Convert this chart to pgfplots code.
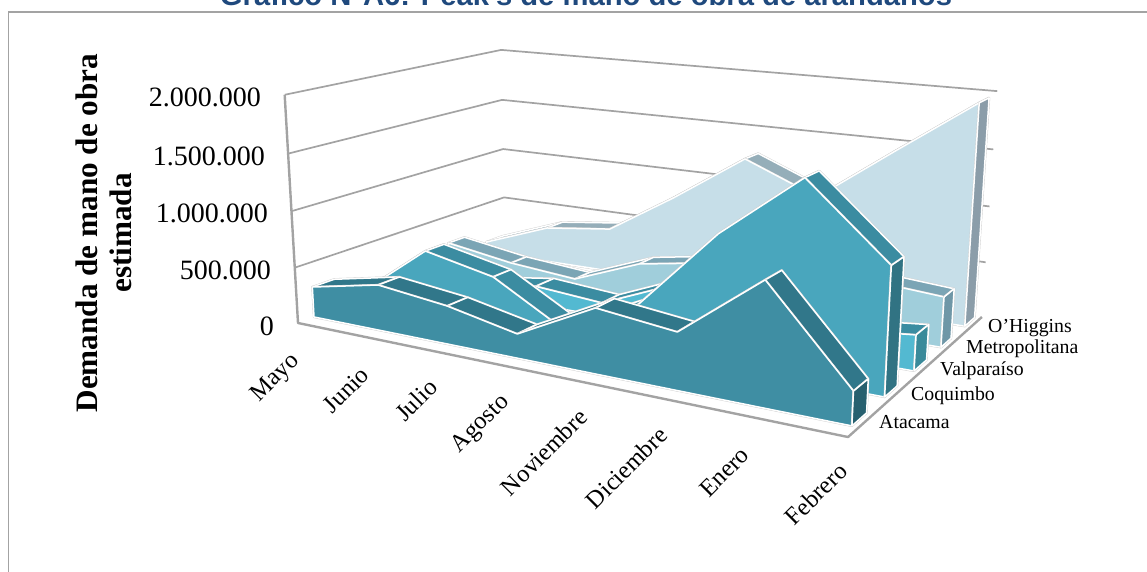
\documentclass[border=0pt]{standalone}
\usepackage{fontspec}
\setmainfont{Liberation Serif}
\newfontfamily\titlefont{Liberation Sans}
\usepackage{pgfplots}
\usepackage{pgfplotstable}
\pgfplotsset{compat=1.18}

% Estimated peak labour demand, thousands of workers; pos = place along the month axis
\pgfplotstableread{
pos value
0.000 275
0.150 405
0.295 333
0.433 207
0.578 544
0.718 469
0.855 984
0.990 265
}\atacama
\pgfplotstableread{
pos value
0.000 66
0.150 552
0.295 420
0.433 72
0.578 392
0.718 1086
0.855 1612
0.990 1030
}\coquimbo
\pgfplotstableread{
pos value
0.000 60
0.150 80
0.295 170
0.433 120
0.578 400
0.718 300
0.855 232
0.990 300
}\valparaiso
\pgfplotstableread{
pos value
0.000 233
0.150 132
0.295 76
0.433 318
0.578 429
0.718 420
0.855 487
0.990 435
}\metropolitana
\pgfplotstableread{
pos value
0.000 103
0.150 340
0.295 419
0.433 806
0.578 1254
0.718 983
0.855 1470
0.990 1945
}\ohiggins

\definecolor{gridgray}{HTML}{A3A3A3}
\definecolor{titleblue}{HTML}{1F497D}
\definecolor{ataF}{HTML}{3F8EA3}\definecolor{ataT}{HTML}{31778A}\definecolor{ataE}{HTML}{27606F}
\definecolor{coqF}{HTML}{49A6BD}\definecolor{coqT}{HTML}{3B8CA1}\definecolor{coqE}{HTML}{317383}
\definecolor{valF}{HTML}{53B9D1}\definecolor{valT}{HTML}{3B8CA1}\definecolor{valE}{HTML}{3A8A9A}
\definecolor{metF}{HTML}{A0CEDB}\definecolor{metT}{HTML}{7BA5B5}\definecolor{metE}{HTML}{6F97A7}
\definecolor{ohiF}{HTML}{C6DEE8}\definecolor{ohiT}{HTML}{95AEB9}\definecolor{ohiE}{HTML}{8B9DA9}

\tikzset{facet/.style={draw=white,line width=1.5bp,line join=round,
  preaction={draw=black!20,line width=2.2bp}}}

% Perspective of the chart box: month position, depth, value in thousands
\newcommand{\project}[3]{%
  \pgfmathsetmacro{\pv}{#3/2000}%
  \pgfmathsetmacro{\pw}{1-0.22094*#1+0.21511*#2-0.04*\pv}%
  \pgfmathsetmacro{\camx}{(298+362.64*#1+315.63*#2-24.7*\pv)/\pw}%
  \pgfmathsetmacro{\camy}{(323+17.45*#1-25.3*#2-232*\pv)/\pw+\pv*(10*#1-6*#2)}%
}
\newcommand{\addpt}[4]{\project{#2}{#3}{#4}\edef#1{#1(\camx,\camy) }}
\newcommand{\rowof}[2]{%
  \pgfplotstablegetelem{#2}{pos}\of{#1}\let\rpos\pgfplotsretval
  \pgfplotstablegetelem{#2}{value}\of{#1}\let\rval\pgfplotsretval
}
\newcommand{\facet}[2]{\edef\cmd{\noexpand\addplot[facet,fill=#1] coordinates {#2} -- cycle;}\cmd}

% One ribbon: table, front depth, back depth, colours of front, top and end faces
\newcommand{\ribbon}[6]{%
  \pgfplotsforeachungrouped \r in {0,...,6}{%
    \pgfmathtruncatemacro{\rn}{\r+1}%
    \rowof{#1}{\r}\let\pa\rpos\let\va\rval
    \rowof{#1}{\rn}\let\pb\rpos\let\vb\rval
    \def\poly{}%
    \addpt\poly{\pa}{#2}{\va}\addpt\poly{\pb}{#2}{\vb}%
    \addpt\poly{\pb}{#3}{\vb}\addpt\poly{\pa}{#3}{\va}%
    \facet{#5}{\poly}%
  }%
  \def\poly{}%
  \rowof{#1}{0}\addpt\poly{\rpos}{#2}{0}%
  \pgfplotsforeachungrouped \r in {0,...,7}{%
    \rowof{#1}{\r}\addpt\poly{\rpos}{#2}{\rval}%
  }%
  \addpt\poly{\rpos}{#2}{0}%
  \facet{#4}{\poly}%
  \def\poly{}%
  \addpt\poly{\rpos}{#2}{\rval}\addpt\poly{\rpos}{#3}{\rval}%
  \addpt\poly{\rpos}{#3}{0}\addpt\poly{\rpos}{#2}{0}%
  \facet{#6}{\poly}%
}
\newcommand{\gridline}[1]{%
  \def\poly{}%
  \addpt\poly{0}{0}{#1}\addpt\poly{0}{1}{#1}\addpt\poly{1}{1}{#1}%
  \edef\cmd{\noexpand\addplot[draw=gridgray,line width=1.7bp,line join=round] coordinates {\poly};}\cmd
}
\newcommand{\ylab}[3]{\node[anchor=east,inner sep=0pt,font=\fontsize{28bp}{30bp}\selectfont] at (axis cs:#1,#2) {#3};}
\newcommand{\mlab}[3]{\node[anchor=east,rotate=45,inner sep=0pt,font=\fontsize{24.5bp}{26bp}\selectfont] at (axis cs:#1,#2) {#3};}
\newcommand{\slab}[3]{\node[anchor=west,inner sep=0pt,font=\fontsize{19.8bp}{22bp}\selectfont] at (axis cs:#1,#2) {#3};}

\begin{document}
\begin{tikzpicture}
\path[use as bounding box] (0,0) rectangle (1147bp,572bp);
\begin{axis}[
  width=1147bp,height=572bp,scale only axis,
  xmin=0,xmax=1147,ymin=0,ymax=572,y dir=reverse,
  hide axis,clip=false]

% Page frame
\addplot[draw=gridgray,line width=1.4bp] coordinates {(8.5,572) (8.5,12) (1147,12)};

% Walls and floor
\gridline{500}\gridline{1000}\gridline{1500}\gridline{2000}
\def\poly{}\addpt\poly{0}{0}{2000}\addpt\poly{0}{0}{0}\addpt\poly{1}{0}{0}\addpt\poly{1}{1}{0}
\edef\cmd{\noexpand\addplot[draw=gridgray,line width=2.4bp,line join=round] coordinates {\poly};}\cmd

% Ribbons, back to front
\ribbon{\ohiggins}{0.895}{0.985}{ohiF}{ohiT}{ohiE}
\ribbon{\metropolitana}{0.69}{0.775}{metF}{metT}{metE}
\ribbon{\valparaiso}{0.48}{0.575}{valF}{valT}{valE}
\ribbon{\coquimbo}{0.272}{0.358}{coqF}{coqT}{coqE}
\ribbon{\atacama}{0.0645}{0.155}{ataF}{ataT}{ataE}

% Title
\node[anchor=base,inner sep=0pt,text=titleblue,font=\titlefont\bfseries\fontsize{29.2bp}{31bp}\selectfont]
  at (axis cs:586,6) {Gráfico N°A6: Peak's de mano de obra de arándanos};

% Axis title
\node[rotate=90,anchor=center,inner sep=0pt,align=center,font=\bfseries\fontsize{31.2bp}{34bp}\selectfont]
  at (axis cs:104,233) {Demanda de mano de obra\\estimada};

% Value axis
\ylab{261}{97}{2.000.000}
\ylab{265}{156}{1.500.000}
\ylab{268}{213}{1.000.000}
\ylab{271}{270}{500.000}
\ylab{274}{326}{0}

% Month axis
\mlab{296}{358}{Mayo}
\mlab{365}{371}{Junio}
\mlab{433}{383}{Julio}
\mlab{506}{399}{Agosto}
\mlab{583}{413}{Noviembre}
\mlab{663}{431}{Diciembre}
\mlab{745}{451}{Enero}
\mlab{843}{467}{Febrero}

% Series axis
\slab{879}{422}{Atacama}
\slab{911}{396}{Coquimbo}
\slab{940}{371}{Valparaíso}
\slab{966}{349}{Metropolitana}
\slab{988}{328}{O’Higgins}
\end{axis}
\end{tikzpicture}
\end{document}
